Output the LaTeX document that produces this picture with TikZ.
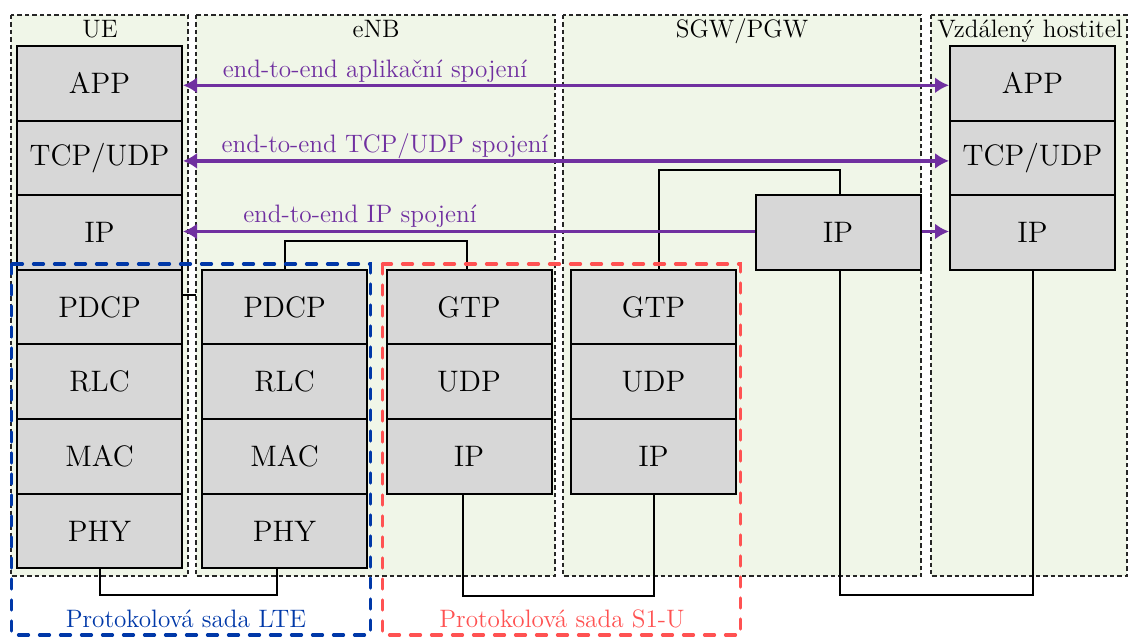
\documentclass[tikz,border=0pt]{standalone}
\usepackage{fontspec}
\usetikzlibrary{arrows.meta,calc}
\definecolor{bggreen}{RGB}{240,246,232}
\definecolor{boxgray}{RGB}{215,215,215}
\definecolor{arrpurple}{RGB}{112,48,160}
\definecolor{lteblue}{RGB}{0,56,168}
\definecolor{s1red}{RGB}{255,82,82}
\begin{document}
\begin{tikzpicture}[x=0.5pt,y=-0.5pt,
 column/.style={draw=black!85, fill=bggreen, line width=0.6pt, dash pattern=on 2.2pt off 1.5pt},
 layer/.style={draw, fill=boxgray, line width=1pt, minimum width=82.5pt, minimum height=37.3pt, inner sep=0pt, font=\fontsize{14.8}{17}\selectfont},
 coltitle/.style={anchor=base, font=\fontsize{12.6}{15}\selectfont},
 conn/.style={line width=1pt},
 e2e/.style={draw=arrpurple, line width=1.6pt, -{Latex[length=7pt,width=8pt]}},
 e2eboth/.style={draw=arrpurple, line width=1.6pt, {Latex[length=7pt,width=8pt]}-{Latex[length=7pt,width=8pt]}},
 e2elabel/.style={anchor=base, text=arrpurple, font=\fontsize{12.6}{15}\selectfont},
 suite/.style={line width=1.6pt, line cap=round, dash pattern=on 5pt off 5.5pt},
 suitelabel/.style={anchor=base, font=\fontsize{12.6}{15}\selectfont}
]
\useasboundingbox (0,0) rectangle (1130,637);

% columns
\draw[column] (11,15) rectangle (188,576);
\draw[column] (196,15) rectangle (555,576);
\draw[column] (563,15) rectangle (921,576);
\draw[column] (931,15) rectangle (1127,576);
\node[coltitle] (tue) at (100,37) {UE};
\node[coltitle] (tenb) at (376,37) {eNB};
\node[coltitle] (tsgw) at (742,37) {SGW/PGW};
\node[coltitle] (trem) at (1030,37) {Vzdálený hostitel};

% UE stack
\node[layer] (ueapp) at (99.5,83.3) {APP};
\node[layer] (uetcp) at (99.5,157.9) {TCP/UDP};
\node[layer] (ueip) at (99.5,232.5) {IP};
\node[layer] (uepdcp) at (99.5,307.1) {PDCP};
\node[layer] (uerlc) at (99.5,381.7) {RLC};
\node[layer] (uemac) at (99.5,456.3) {MAC};
\node[layer] (uephy) at (99.5,530.9) {PHY};

% eNB radio stack
\node[layer] (enbpdcp) at (284.5,307.1) {PDCP};
\node[layer] (enbrlc) at (284.5,381.7) {RLC};
\node[layer] (enbmac) at (284.5,456.3) {MAC};
\node[layer] (enbphy) at (284.5,530.9) {PHY};

% eNB S1 stack
\node[layer] (enbgtp) at (469,307.1) {GTP};
\node[layer] (enbudp) at (469,381.7) {UDP};
\node[layer] (enbip) at (469,456.3) {IP};

% SGW stack
\node[layer] (sgwgtp) at (653.5,307.1) {GTP};
\node[layer] (sgwudp) at (653.5,381.7) {UDP};
\node[layer] (sgwip) at (653.5,456.3) {IP};
\node[layer] (sgwipr) at (838,232.5) {IP};

% remote host
\node[layer] (remapp) at (1032.5,83.3) {APP};
\node[layer] (remtcp) at (1032.5,157.9) {TCP/UDP};
\node[layer] (remip) at (1032.5,232.5) {IP};

% connectors
\draw[conn] (enbpdcp.north) -- ++(0,-28) -| ($(enbgtp.north)+(-2,0)$);
\draw[conn] ($(sgwgtp.north)+(5,0)$) -- ++(0,-99) -| ($(sgwipr.north)+(2,0)$);
\draw[conn] (uephy.south) -- ++(0,26) -| ($(enbphy.south)+(-7.5,0)$);
\draw[conn] ($(enbip.south)+(-6,0)$) -- ++(0,101) -| (sgwip.south);
\draw[conn] ($(sgwipr.south)+(2,0)$) -- ++(0,324) -| (remip.south);
\draw[conn] ($(uepdcp.east)+(0,-12)$) -- ++(13,0);

% end-to-end arrows
\draw[e2eboth] ($(ueapp.east)+(0,2)$) -- ($(remapp.west)+(0,2)$);
\draw[e2eboth] ($(uetcp.east)+(0,3)$) -- ($(remtcp.west)+(0,3)$);
\draw[e2e] ($(sgwipr.west)+(0,-1)$) -- ($(ueip.east)+(0,-1)$);
\draw[e2e] ($(sgwipr.east)+(0,-1)$) -- ($(remip.west)+(0,-1)$);
\node[e2elabel] (lapp) at (375,77) {end-to-end aplikační spojení};
\node[e2elabel] (ltcp) at (385,152) {end-to-end TCP/UDP spojení};
\node[e2elabel] (lip) at (360,222) {end-to-end IP spojení};

% protocol suites
\draw[suite, draw=lteblue] (11.5,264) rectangle (370.5,635);
\draw[suite, draw=s1red] (382.5,264) rectangle (740.5,635);
\node[suitelabel, text=lteblue] (slte) at (186,627) {Protokolová sada LTE};
\node[suitelabel, text=s1red] (ss1) at (562,627) {Protokolová sada S1-U};
\end{tikzpicture}
\end{document}
